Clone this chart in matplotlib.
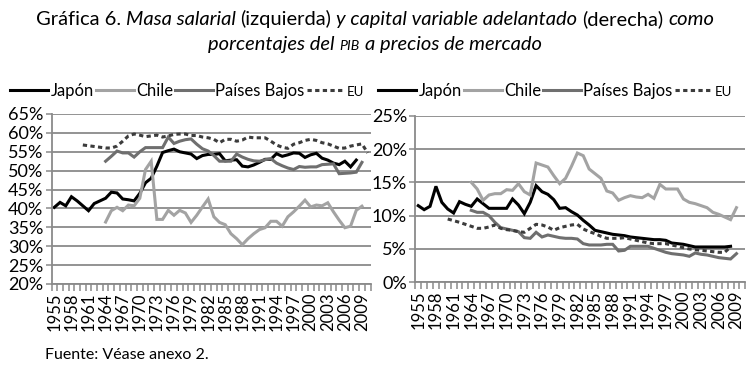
import matplotlib
matplotlib.use('Agg')
import matplotlib.pyplot as plt
import numpy as np

# ---------------- data ----------------
years = list(range(1955, 2011))
tick_years = list(range(1955, 2010, 3))

# Left panel: masa salarial (% PIB)
left_japon_start = 1955
left_japon = [40.3, 41.6, 40.7, 43.1, 42.0, 40.7, 39.4, 41.3, 42.0, 42.7,
              44.3, 44.1, 42.5, 42.3, 42.0, 44.0, 46.8, 48.0, 51.2, 54.8,
              55.3, 55.7, 55.0, 54.7, 54.4, 53.2, 54.0, 54.3, 54.3, 54.5,
              52.6, 52.8, 52.9, 51.2, 51.0, 51.5, 52.2, 53.0, 53.0, 54.5,
              53.8, 54.2, 54.7, 54.6, 53.5, 54.2, 54.6, 53.3, 52.8, 52.0,
              51.6, 52.5, 51.0, 52.8]
left_chile_start = 1964
left_chile = [36.4, 39.4, 40.3, 39.4, 40.9, 40.7, 42.7, 50.3, 52.5, 37.1,
              37.1, 39.5, 38.2, 39.5, 38.8, 36.3, 38.2, 40.4, 42.5, 37.8,
              36.3, 35.7, 33.3, 32.0, 30.4, 32.0, 33.3, 34.4, 34.9, 36.6,
              36.6, 35.3, 37.8, 39.1, 40.6, 42.2, 40.4, 40.9, 40.7, 41.5,
              39.1, 36.9, 34.9, 35.3, 39.5, 40.6]
left_pb_start = 1964
left_pb = [52.5, 53.8, 55.2, 54.7, 54.7, 53.6, 55.0, 56.1, 56.1, 56.1,
           56.1, 58.9, 57.2, 57.8, 58.2, 58.4, 57.0, 55.8, 55.2, 54.0,
           52.5, 52.5, 52.5, 54.4, 53.6, 53.0, 52.6, 52.5, 52.9, 53.2,
           52.0, 51.3, 50.7, 50.3, 51.1, 50.9, 51.0, 51.0, 51.6, 51.7,
           51.8, 49.2, 49.3, 49.4, 49.6, 52.2]
left_eu_start = 1960
left_eu = [56.8, 56.6, 56.4, 56.2, 56.0, 56.0, 56.5, 57.8, 59.2, 59.7,
           59.4, 59.0, 59.2, 59.4, 58.9, 59.2, 59.6, 59.7, 59.7, 59.3,
           59.3, 58.9, 58.7, 58.3, 57.4, 58.3, 58.3, 57.8, 58.1, 58.9,
           58.7, 58.7, 58.7, 57.8, 56.8, 56.2, 55.9, 57.0, 57.4, 58.0,
           58.3, 58.0, 57.4, 57.1, 56.5, 55.9, 56.0, 56.5, 56.8, 57.1,
           54.7]

# Right panel: capital variable adelantado (% PIB)
right_japon_start = 1955
right_japon = [11.5, 10.9, 11.4, 14.4, 12.0, 11.0, 10.4, 12.1, 11.7, 11.4,
               12.5, 11.8, 11.1, 11.1, 11.1, 11.1, 12.5, 11.6, 10.3, 12.0,
               14.5, 13.6, 13.2, 12.4, 11.1, 11.2, 10.6, 10.1, 9.3, 8.6,
               7.8, 7.6, 7.4, 7.2, 7.1, 7.0, 6.8, 6.7, 6.6, 6.5,
               6.4, 6.4, 6.3, 5.9, 5.8, 5.7, 5.5, 5.3, 5.3, 5.3,
               5.3, 5.3, 5.3, 5.4]
right_chile_start = 1964
right_chile = [15.0, 14.0, 12.3, 13.1, 13.3, 13.3, 13.9, 13.8, 14.8, 13.6,
               13.1, 17.9, 17.6, 17.3, 16.0, 14.8, 15.6, 17.4, 19.4, 19.0,
               17.0, 16.3, 15.6, 13.7, 13.4, 12.3, 12.7, 13.0, 12.8, 12.7,
               13.2, 12.6, 14.7, 14.0, 14.0, 14.0, 12.5, 12.0, 11.8, 11.5,
               11.2, 10.5, 10.2, 9.8, 9.4, 11.2]
right_pb_start = 1964
right_pb = [10.8, 10.5, 10.5, 10.0, 9.0, 8.2, 8.0, 7.8, 7.6, 6.7,
            6.6, 7.5, 6.8, 7.1, 6.9, 6.7, 6.6, 6.6, 6.5, 5.8,
            5.6, 5.6, 5.6, 5.7, 5.7, 4.7, 4.8, 5.4, 5.4, 5.4,
            5.4, 5.1, 4.8, 4.5, 4.3, 4.2, 4.1, 3.9, 4.4, 4.2,
            4.1, 3.9, 3.7, 3.6, 3.5, 4.3]
right_eu_start = 1960
right_eu = [9.5, 9.25, 9.0, 8.7, 8.4, 8.1, 8.1, 8.3, 8.6, 8.1,
            7.9, 7.8, 7.6, 7.5, 8.1, 8.7, 8.6, 8.3, 7.8, 8.2,
            8.4, 8.6, 8.7, 8.0, 7.6, 7.3, 6.9, 6.6, 6.6, 6.6,
            6.7, 6.5, 6.3, 6.1, 5.9, 5.8, 5.8, 5.8, 5.6, 5.4,
            5.2, 5.0, 4.9, 4.8, 4.7, 4.6, 4.5, 4.5, 5.3]

series_names = ['Japón', 'Chile', 'Países Bajos', 'EU']
left_yticks = [20, 25, 30, 35, 40, 45, 50, 55, 60, 65]
right_yticks = [0, 5, 10, 15, 20, 25]

# ---------------- style ----------------
FAMILY = ['Lato', 'DejaVu Sans']
plt.rcParams['font.family'] = FAMILY
W, H = 750, 371
fig = plt.figure(figsize=(W / 100, H / 100), dpi=100)

GRID = '#8a8a8a'
styles = {
    'Japón': dict(color='#000000', lw=2.2, ls='-'),
    'Chile': dict(color='#a3a3a3', lw=2.2, ls='-'),
    'Países Bajos': dict(color='#6f6f6f', lw=2.2, ls='-'),
    'EU': dict(color='#3c3c3c', lw=2.2, ls=(0, (1.4, 1.1))),
}


def xs_for(start, vals):
    i0 = years.index(start)
    return list(range(i0, i0 + len(vals)))


def draw_panel(rect, data, yticks, legend_x):
    ax = fig.add_axes(rect)
    for name, (start, vals) in zip(series_names, data):
        st = styles[name]
        ax.plot(xs_for(start, vals), vals, color=st['color'], lw=st['lw'],
                ls=st['ls'], label=name, solid_joinstyle='miter',
                dash_capstyle='butt')
    ax.set_xlim(-0.5, len(years) - 0.5)
    ax.set_ylim(yticks[0], yticks[-1])
    ax.set_yticks(yticks)
    ax.set_yticklabels([f'{v}%' for v in yticks], fontsize=13)
    ax.yaxis.grid(True, color=GRID, lw=1.3)
    ax.set_axisbelow(True)
    # x ticks: minor marks between categories, labels every 3 years
    ax.set_xticks([years.index(y) for y in tick_years])
    ax.set_xticklabels([str(y) for y in tick_years], rotation=90, fontsize=12)
    ax.set_xticks(np.arange(-0.5, len(years), 1.0), minor=True)
    ax.tick_params(axis='x', which='major', length=0, pad=6)
    ax.tick_params(axis='x', which='minor', length=5, color=GRID, width=1.1)
    ax.tick_params(axis='y', length=4, color=GRID, width=1.1, pad=2)
    for s in ['top', 'right']:
        ax.spines[s].set_visible(False)
    for s in ['left', 'bottom']:
        ax.spines[s].set_color(GRID)
        ax.spines[s].set_linewidth(1.3)
    leg = ax.legend(loc='center left', bbox_to_anchor=(legend_x / W, 1 - 91 / H),
                    bbox_transform=fig.transFigure, ncol=4, frameon=False,
                    fontsize=12, handlelength=2.3, handletextpad=0.12,
                    columnspacing=0.12, borderpad=0, borderaxespad=0)
    leg.get_texts()[3].set_fontsize(9.5)
    return ax


left_data = [(left_japon_start, left_japon), (left_chile_start, left_chile),
             (left_pb_start, left_pb), (left_eu_start, left_eu)]
right_data = [(right_japon_start, right_japon), (right_chile_start, right_chile),
              (right_pb_start, right_pb), (right_eu_start, right_eu)]

draw_panel([51.5 / W, 87 / H, 319 / W, 170 / H], left_data, left_yticks, 10)
draw_panel([415.3 / W, 88.7 / H, 330 / W, 166.6 / H], right_data, right_yticks, 378)

# ---------------- title (mixed styles) ----------------
renderer = fig.canvas.get_renderer()


def text_width(s, size, style):
    t = fig.text(0, 0, s, fontsize=size, style=style, family=FAMILY)
    w = t.get_window_extent(renderer=renderer).width
    t.remove()
    return w


def rich_line(pieces, baseline_px, size):
    texts, widths = [], []
    for s, style, scale in pieces:
        fs = size * scale
        t = fig.text(0, 0, s.rstrip(' '), fontsize=fs, style=style,
                     family=FAMILY, ha='left', va='baseline')
        w = text_width(s.rstrip(' '), fs, style)
        n_sp = len(s) - len(s.rstrip(' '))
        if n_sp:
            sp = text_width('x x', size, style) - text_width('xx', size, style)
            w += sp * n_sp
        texts.append(t)
        widths.append(w)
    x = (W - sum(widths)) / 2
    for t, w in zip(texts, widths):
        t.set_position((x / W, 1 - baseline_px / H))
        x += w


TS = 14.5
rich_line([('Gráfica 6. ', 'normal', 1), ('Masa salarial ', 'italic', 1),
           ('(izquierda) ', 'normal', 1), ('y capital variable adelantado ', 'italic', 1),
           ('(derecha) ', 'normal', 1), ('como', 'italic', 1)], 25, TS)
rich_line([('porcentajes del ', 'italic', 1), ('PIB ', 'italic', 0.7),
           ('a precios de mercado', 'italic', 1)], 50, TS)

fig.text(45 / W, 1 - 355 / H, 'Fuente: Véase anexo 2.', fontsize=11.5,
         ha='left', va='center')

fig.savefig('out.png', dpi=100)
